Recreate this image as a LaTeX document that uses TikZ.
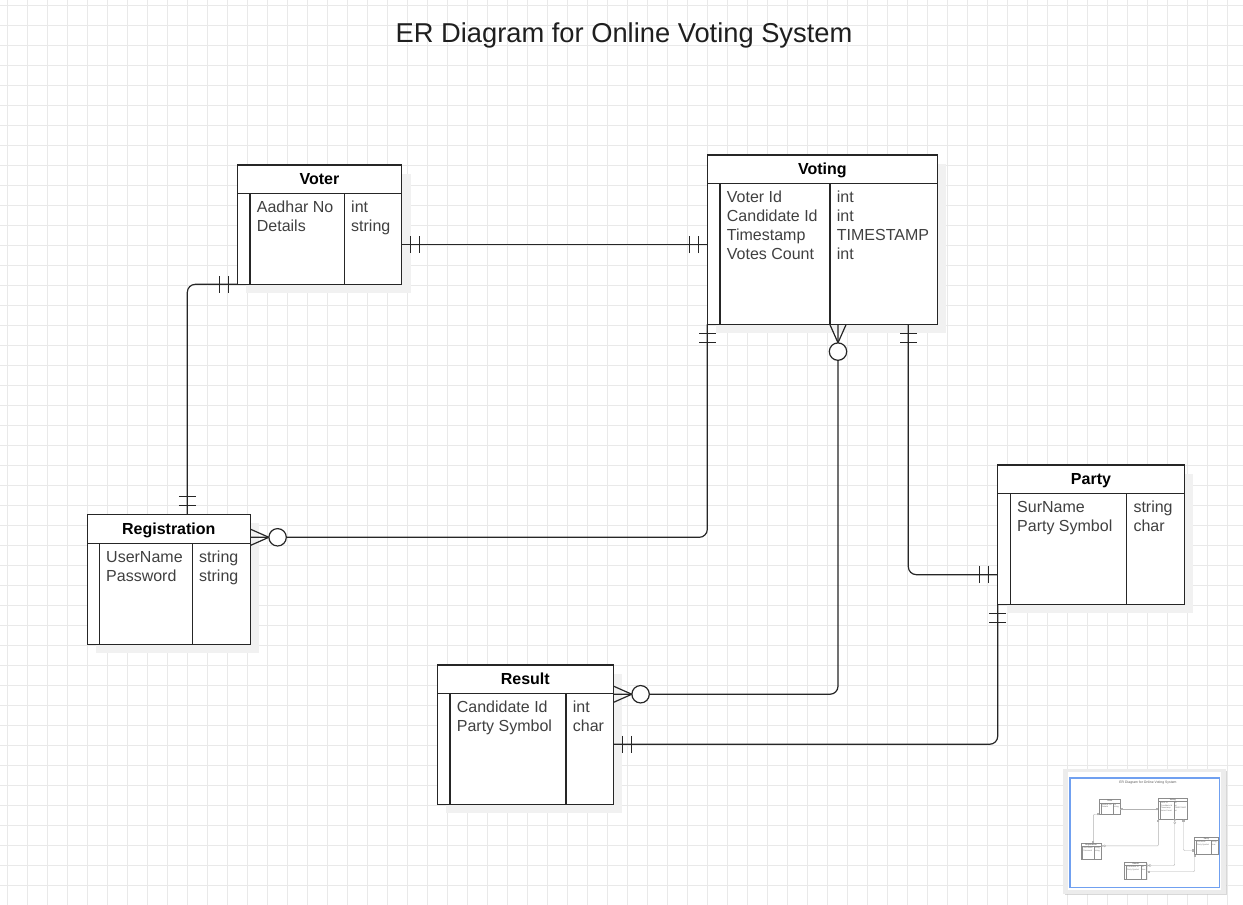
\documentclass[tikz,border=0pt]{standalone}
\usepackage{fontspec}
\setmainfont{Liberation Sans}
\usetikzlibrary{shadows}
\definecolor{gridgray}{RGB}{233,233,233}
\definecolor{shadowgray}{RGB}{241,241,241}
\definecolor{panelgray}{RGB}{236,236,236}
\definecolor{viewblue}{RGB}{112,160,240}
\tikzset{
  gridline/.style={draw=gridgray, line width=1pt},
  boxshadow/.style={drop shadow={shadow xshift=9pt, shadow yshift=-9pt, fill=shadowgray, opacity=1}},
  tbl/.style={draw=black!85, line width=1.2pt, fill=white, inner sep=0pt, outer sep=0pt, anchor=north west, boxshadow},
  tblline/.style={draw=black!85, line width=1.2pt},
  heading/.style={font=\fontsize{27.3}{32}\selectfont, text=black!88, inner sep=0pt, anchor=base},
  hdr/.style={font=\fontsize{16}{19}\selectfont\bfseries, text=black, inner sep=0pt, anchor=base},
  attr/.style={font=\fontsize{16}{19}\selectfont, text=black!75, inner sep=0pt, anchor=base west},
  link/.style={draw=black!85, line width=1.2pt, rounded corners=8pt},
  cardline/.style={draw=black!85, line width=1.2pt},
  mandone/.pic={\draw[cardline] (9,-8.5) -- (9,8.5) (18,-8.5) -- (18,8.5);},
  zeromany/.pic={\draw[cardline] (0,-8.2) -- (18.5,0) -- (0,8.2);
    \draw[cardline, fill=white] (27.3,0) circle[radius=8.7pt];},
}
\newcommand{\erbody}[1]{%
  \node[heading] (#1title) at (624,42.3) {ER Diagram for Online Voting System};
  % Voter
  \node[tbl, minimum width=164.4pt, minimum height=119.3pt] (#1voter) at (237.3,165) {};
  \draw[tblline] (237.3,193.3) -- (401.7,193.3) (250,193.3) -- (250,284.3) (344.5,193.3) -- (344.5,284.3);
  \node[hdr] (#1voter-h) at (319.5,184.7) {Voter};
  \foreach \an/\ty [count=\i] in {Aadhar No/int, Details/string} {
    \node[attr] (#1voter-a\i) at (256.7,{212+19*(\i-1)}) {\an};
    \node[attr] (#1voter-t\i) at (351,{212+19*(\i-1)}) {\ty};
  }
  % Voting
  \node[tbl, minimum width=230pt, minimum height=169.3pt] (#1voting) at (707.3,155) {};
  \draw[tblline] (707.3,183.3) -- (937.3,183.3) (720,183.3) -- (720,324.3) (830,183.3) -- (830,324.3);
  \node[hdr] (#1voting-h) at (822.3,174.7) {Voting};
  \foreach \an/\ty [count=\i] in {Voter Id/int, Candidate Id/int, Timestamp/TIMESTAMP, Votes Count/int} {
    \node[attr] (#1voting-a\i) at (726.7,{202+19*(\i-1)}) {\an};
    \node[attr] (#1voting-t\i) at (836.7,{202+19*(\i-1)}) {\ty};
  }
  % Registration
  \node[tbl, minimum width=163pt, minimum height=130pt] (#1reg) at (87.3,514.3) {};
  \draw[tblline] (87.3,543.3) -- (250.3,543.3) (99.3,543.3) -- (99.3,644.3) (192.3,543.3) -- (192.3,644.3);
  \node[hdr] (#1reg-h) at (168.8,534.3) {Registration};
  \foreach \an/\ty [count=\i] in {UserName/string, Password/string} {
    \node[attr] (#1reg-a\i) at (106,{562+19*(\i-1)}) {\an};
    \node[attr] (#1reg-t\i) at (199,{562+19*(\i-1)}) {\ty};
  }
  % Result
  \node[tbl, minimum width=176pt, minimum height=139.3pt] (#1result) at (437.3,665) {};
  \draw[tblline] (437.3,693.3) -- (613.3,693.3) (450,693.3) -- (450,804.3) (566,693.3) -- (566,804.3);
  \node[hdr] (#1result-h) at (525.3,684.7) {Result};
  \foreach \an/\ty [count=\i] in {Candidate Id/int, Party Symbol/char} {
    \node[attr] (#1result-a\i) at (456.7,{712+19*(\i-1)}) {\an};
    \node[attr] (#1result-t\i) at (572.7,{712+19*(\i-1)}) {\ty};
  }
  % Party
  \node[tbl, minimum width=186.6pt, minimum height=139.3pt] (#1party) at (997.7,465) {};
  \draw[tblline] (997.7,493.3) -- (1184.3,493.3) (1010.3,493.3) -- (1010.3,604.3) (1126.7,493.3) -- (1126.7,604.3);
  \node[hdr] (#1party-h) at (1091,484.7) {Party};
  \foreach \an/\ty [count=\i] in {SurName/string, Party Symbol/char} {
    \node[attr] (#1party-a\i) at (1017,{512+19*(\i-1)}) {\an};
    \node[attr] (#1party-t\i) at (1133.3,{512+19*(\i-1)}) {\ty};
  }
  % relations
  \coordinate (#1c1) at ([yshift=-20pt]#1voter.east);
  \coordinate (#1c2) at ([xshift=18.5pt]#1reg.north);
  \coordinate (#1c3) at ([yshift=42pt]#1reg.east);
  \coordinate (#1c4) at ([xshift=15.7pt]#1voting.south);
  \coordinate (#1c5) at ([yshift=40.4pt]#1result.east);
  \coordinate (#1c6) at ([xshift=86pt]#1voting.south);
  \coordinate (#1c7) at ([yshift=-40pt]#1party.west);
  \coordinate (#1c8) at ([yshift=-9.6pt]#1result.east);
  \draw[link] (#1c1) -- (#1c1 -| #1voting.west);
  \draw[link] (#1voter.south west) -| (#1c2);
  \draw[link] (#1voting.south west) |- (#1c3);
  \draw[link] (#1c4) |- (#1c5);
  \draw[link] (#1c6) |- (#1c7);
  \draw[link] (#1party.south west) |- (#1c8);
  \pic at (#1c1) {mandone};
  \pic[rotate=180] at (#1c1 -| #1voting.west) {mandone};
  \pic[rotate=180] at (#1voter.south west) {mandone};
  \pic[rotate=90] at (#1c2) {mandone};
  \pic[rotate=-90] at (#1voting.south west) {mandone};
  \pic at (#1c3) {zeromany};
  \pic[rotate=-90] at (#1c4) {zeromany};
  \pic at (#1c5) {zeromany};
  \pic[rotate=-90] at (#1c6) {mandone};
  \pic[rotate=180] at (#1c7) {mandone};
  \pic[rotate=-90] at (#1party.south west) {mandone};
  \pic at (#1c8) {mandone};
}
\begin{document}
\begin{tikzpicture}[x=1pt, y=-1pt]
  \useasboundingbox (0,0) rectangle (1243,905);
  \fill[white] (0,0) rectangle (1243,905);
  \foreach \gx in {7.5,27.5,...,1243} \draw[gridline] (\gx,0) -- (\gx,905);
  \foreach \gy in {5,25,...,905} \draw[gridline] (0,\gy) -- (1243,\gy);
  \erbody{}
  % outline panel
  \fill[panelgray, drop shadow={shadow xshift=1.5pt, shadow yshift=-1.5pt, fill=black!25, opacity=0.6}] (1063,769) rectangle (1225.5,893.5);
  \fill[white] (1068,772) rectangle (1221,889.5);
  \begin{scope}[shift={(1070,778.7)}, scale=0.125, transform shape,
      boxshadow/.style={drop shadow={shadow xshift=1.1pt, shadow yshift=-1.1pt, fill=black!8, opacity=1}},
      tbl/.append style={line width=0.5pt, draw=black!45},
      tblline/.append style={line width=0.4pt, draw=black!45},
      link/.append style={line width=0.4pt, draw=black!30, rounded corners=1pt},
      cardline/.append style={line width=0.4pt, draw=black!30},
      attr/.append style={text=black!55}, hdr/.append style={text=black!60},
      heading/.append style={text=black!65}]
    \erbody{m}
  \end{scope}
  \draw[viewblue, line width=1.2pt] (1070,778) rectangle (1219.3,887.5);
\end{tikzpicture}
\end{document}
